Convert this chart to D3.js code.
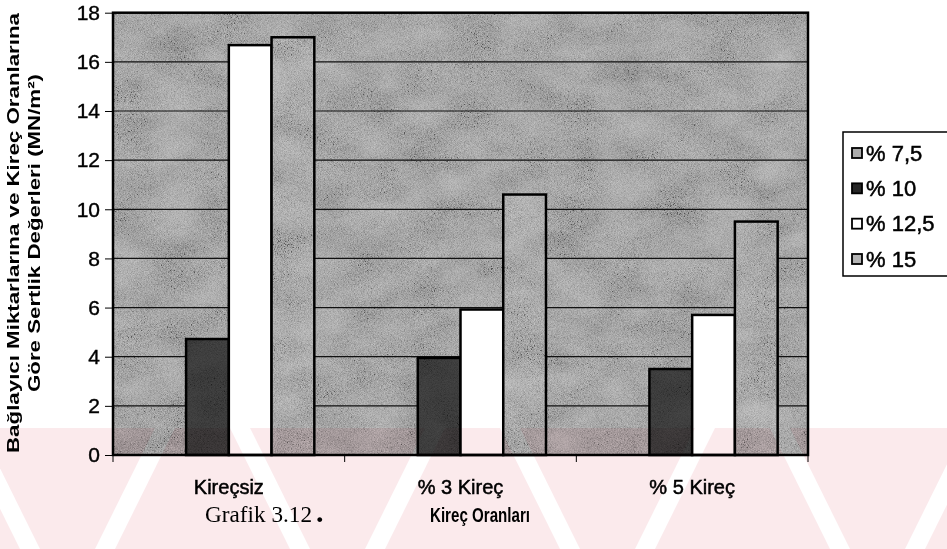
<!DOCTYPE html>
<html>
<head>
<meta charset="utf-8">
<script src="https://cdn.jsdelivr.net/npm/d3@7"></script>
<style>
  html, body { margin: 0; padding: 0; background: #ffffff; }
  svg { display: block; }
</style>
</head>
<body>
<svg id="chart" width="947" height="549"></svg>
<script>
// ---- data ----
const categories = ["Kireçsiz", "% 3 Kireç", "% 5 Kireç"];
const seriesNames = ["% 7,5", "% 10", "% 12,5", "% 15"];
const s75  = [null, null, null];
const s10  = [4.72, 3.95, 3.5];
const s125 = [16.68, 5.92, 5.7];
const s15  = [17.0, 10.6, 9.5];
const yTicks = [0, 2, 4, 6, 8, 10, 12, 14, 16, 18];
const yTitle1 = "Bağlayıcı Miktarlarına ve Kireç Oranlarına";
const yTitle2 = "Göre Sertlik Değerleri (MN/m²)";
const xTitle = "Kireç Oranları";
const captionText = "Grafik 3.12";

const seriesValues = [s75, s10, s125, s15];

// ---- layout ----
const SANS = "Arial, 'Liberation Sans', sans-serif";
const SERIF = "'Times New Roman', 'Liberation Serif', serif";
const svg = d3.select("#chart");
const L = 113, R = 808, T = 12.7, B = 455;

const fills = ["#ababab", "#262626", "#ffffff", "#b4b4b4"];
const grainOf = ["grain", "grainDark", null, "grain"];

const defs = svg.append("defs");
function makeGrain(id, alpha, seed) {
  const f = defs.append("filter").attr("id", id)
    .attr("x", 0).attr("y", 0).attr("width", 1).attr("height", 1)
    .attr("filterUnits", "objectBoundingBox");
  f.append("feTurbulence").attr("type", "fractalNoise").attr("baseFrequency", "1.3 1.3")
    .attr("numOctaves", 1).attr("seed", seed).attr("result", "n1");
  f.append("feTurbulence").attr("type", "fractalNoise").attr("baseFrequency", "0.02 0.035")
    .attr("numOctaves", 2).attr("seed", seed + 5).attr("result", "n2");
  f.append("feComposite").attr("in", "n1").attr("in2", "n2").attr("operator", "arithmetic")
    .attr("k1", 0).attr("k2", 1.0).attr("k3", 0.4).attr("k4", -0.15).attr("result", "n");
  f.append("feColorMatrix").attr("in", "n").attr("type", "matrix")
    .attr("values", `1 0 0 0 0  1 0 0 0 0  1 0 0 0 0  0 0 0 0 ${alpha}`).attr("result", "g");
  f.append("feComposite").attr("in", "g").attr("in2", "SourceGraphic").attr("operator", "in");
}
makeGrain("grain", 0.5, 4);
makeGrain("grainDark", 0.18, 7);

const x0 = d3.scaleBand().domain(categories).range([L, R]).paddingInner(0.262).paddingOuter(0.131);
const x1 = d3.scaleBand().domain(seriesNames).range([0, x0.bandwidth()]);
const y = d3.scaleLinear().domain([0, 18]).range([B, T]);

// plot background
svg.append("rect").attr("x", L).attr("y", T).attr("width", R - L).attr("height", B - T)
  .attr("fill", "#ababab");
svg.append("rect").attr("x", L).attr("y", T).attr("width", R - L).attr("height", B - T)
  .attr("fill", "#ababab").attr("filter", "url(#grain)");

// gridlines
svg.append("g").selectAll("line").data(yTicks.filter(d => d > 0 && d < 18)).join("line")
  .attr("x1", L).attr("x2", R).attr("y1", d => y(d)).attr("y2", d => y(d))
  .attr("stroke", "#111").attr("stroke-width", 1.2);

// bars
const gBars = svg.append("g");
seriesNames.forEach((s, i) => {
  const data = seriesValues[i].map((v, j) => ({ cat: categories[j], v }))
    .filter(d => d.v !== null);
  const g = gBars.append("g");
  g.selectAll("rect.base").data(data).join("rect").attr("class", "base")
    .attr("x", d => x0(d.cat) + x1(s)).attr("y", d => y(d.v))
    .attr("width", x1.bandwidth()).attr("height", d => B - y(d.v))
    .attr("fill", fills[i]);
  if (grainOf[i]) {
    g.selectAll("rect.tex").data(data).join("rect").attr("class", "tex")
      .attr("x", d => x0(d.cat) + x1(s)).attr("y", d => y(d.v))
      .attr("width", x1.bandwidth()).attr("height", d => B - y(d.v))
      .attr("fill", fills[i]).attr("filter", `url(#${grainOf[i]})`);
  }
  g.selectAll("rect.edge").data(data).join("rect").attr("class", "edge")
    .attr("x", d => x0(d.cat) + x1(s)).attr("y", d => y(d.v))
    .attr("width", x1.bandwidth()).attr("height", d => B - y(d.v))
    .attr("fill", "none").attr("stroke", "#000").attr("stroke-width", 2.5);
});

// plot frame
svg.append("rect").attr("x", L).attr("y", T).attr("width", R - L).attr("height", B - T)
  .attr("fill", "none").attr("stroke", "#000").attr("stroke-width", 2.5);

// y axis
const yAxis = d3.axisLeft(y).tickValues(yTicks).tickSize(8).tickPadding(5);
const ga = svg.append("g").attr("transform", `translate(${L},0)`).call(yAxis);
ga.select(".domain").remove();
ga.selectAll(".tick line").attr("stroke", "#000").attr("stroke-width", 1);
ga.selectAll(".tick text").style("font-size", "21px").style("font-family", SANS)
  .attr("fill", "#000").attr("stroke", "#000").attr("stroke-width", 0.4);

// x axis ticks at category boundaries
const bounds = [L].concat(categories.map(c => x0(c) + x0.bandwidth() + x0.step() * 0.131));
svg.append("g").selectAll("line").data(bounds).join("line")
  .attr("x1", d => d).attr("x2", d => d).attr("y1", B).attr("y2", B + 7)
  .attr("stroke", "#000").attr("stroke-width", 1);

// category labels
svg.append("g").selectAll("text").data(categories).join("text")
  .attr("x", d => x0(d) + x0.bandwidth() / 2).attr("y", 494)
  .attr("text-anchor", "middle").style("font-size", "20px").style("font-family", SANS)
  .attr("fill", "#000").attr("stroke", "#000").attr("stroke-width", 0.5)
  .text(d => d);

// x title and caption
svg.append("text").attr("x", 430).attr("y", 522).style("font-size", "20px")
  .style("font-family", SANS).style("font-weight", "bold")
  .attr("textLength", 100).attr("lengthAdjust", "spacingAndGlyphs")
  .text(xTitle);
svg.append("text").attr("x", 205).attr("y", 522).style("font-size", "23px")
  .style("font-family", SERIF).attr("fill", "#000")
  .attr("textLength", 107).attr("lengthAdjust", "spacingAndGlyphs")
  .text(captionText);
svg.append("text").attr("x", 316).attr("y", 522).style("font-size", "30px")
  .style("font-family", SERIF).style("font-weight", "bold").attr("fill", "#000")
  .text(".");

// y title
const cyT = 233;
svg.append("text").attr("transform", `translate(19,${cyT}) rotate(-90)`)
  .attr("text-anchor", "middle").style("font-size", "17px").style("font-weight", "bold")
  .style("font-family", SANS)
  .attr("textLength", 440).attr("lengthAdjust", "spacingAndGlyphs").text(yTitle1);
svg.append("text").attr("transform", `translate(40,${cyT}) rotate(-90)`)
  .attr("text-anchor", "middle").style("font-size", "17px").style("font-weight", "bold")
  .style("font-family", SANS)
  .attr("textLength", 318).attr("lengthAdjust", "spacingAndGlyphs").text(yTitle2);

// legend
const lg = svg.append("g");
lg.append("path").attr("d", "M960,132 H843 V276 H960")
  .attr("fill", "none").attr("stroke", "#000").attr("stroke-width", 1.5);
const legY = d3.scalePoint().domain(seriesNames).range([153, 259]);
const li = lg.selectAll("g.item").data(seriesNames).join("g").attr("class", "item");
li.append("rect").attr("x", 852).attr("y", d => legY(d) - 5).attr("width", 10).attr("height", 10)
  .attr("fill", (d, i) => fills[i]).attr("stroke", "#000").attr("stroke-width", 1.8);
li.append("text").attr("x", 866).attr("y", d => legY(d) + 7.5).style("font-size", "22px")
  .style("font-family", SANS)
  .attr("fill", "#000").attr("stroke", "#000").attr("stroke-width", 0.5).text(d => d);

// watermark band (scan artefact)
const wm = svg.append("g").style("mix-blend-mode", "multiply").attr("opacity", 0.3);
wm.append("rect").attr("x", 0).attr("y", 428).attr("width", 947).attr("height", 121)
  .attr("fill", "#f0b8c0");
const stripes = [-40, 230, 500, 770, 1040];
stripes.forEach(sx => {
  wm.append("path")
    .attr("d", `M${sx},428 L${sx + 20},428 L${sx + 80},549 L${sx + 60},549 Z`)
    .attr("fill", "#ffffff");
  wm.append("path")
    .attr("d", `M${sx + 135},549 L${sx + 155},549 L${sx + 215},428 L${sx + 195},428 Z`)
    .attr("fill", "#ffffff");
});
</script>
</body>
</html>
